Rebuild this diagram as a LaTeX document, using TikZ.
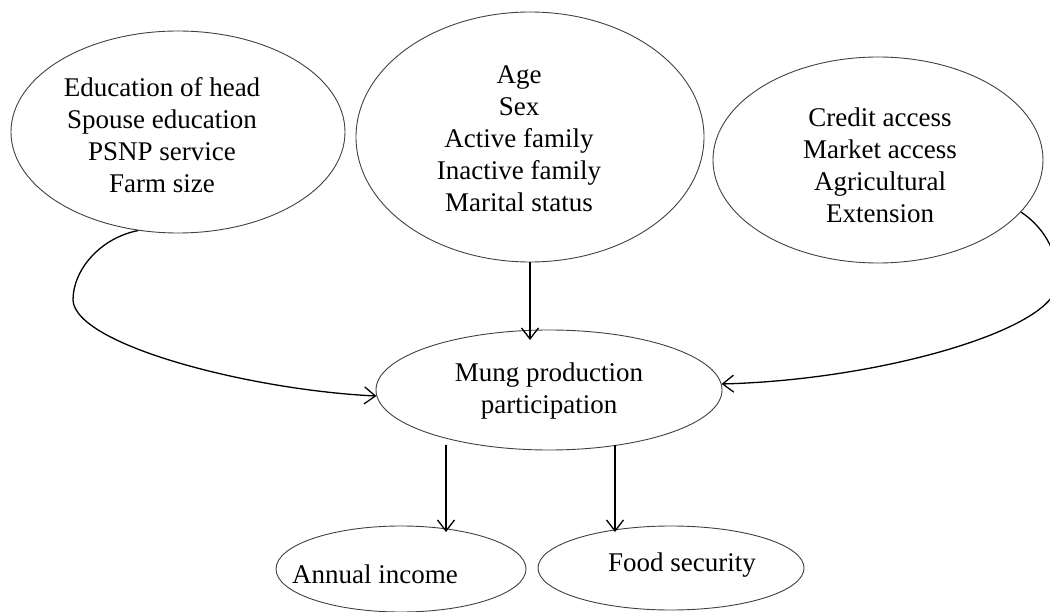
\documentclass[tikz,border=0pt]{standalone}
\usepackage{fontspec}
\setmainfont{Liberation Serif}
\usetikzlibrary{shapes.geometric,arrows.meta}
\begin{document}
\begin{tikzpicture}[x=1pt,y=-1pt,
  oval/.style={draw=black!75,line width=0.9pt,ellipse,inner sep=0pt},
  lbl/.style={align=center,font=\fontsize{27}{32}\selectfont,inner sep=0pt},
  arr/.style={line width=1.3pt,-{Straight Barb[length=11pt,width=17pt,line width=1.3pt]}}]
\useasboundingbox (0,0) rectangle (1050,612);
% ellipses
\node[oval,minimum width=334pt,minimum height=202pt] (e1) at (178,132) {};
\node[oval,minimum width=348pt,minimum height=250pt] (e2) at (530,137) {};
\node[oval,minimum width=330pt,minimum height=206pt] (e3) at (878,160) {};
\node[oval,minimum width=346pt,minimum height=120pt] (mung) at (549,390) {};
\node[oval,minimum width=250pt,minimum height=86pt] (inc) at (401,569) {};
\node[oval,minimum width=266pt,minimum height=84pt] (food) at (671,568) {};
% texts
\node[lbl] (t1) at (162,135) {Education of head\\Spouse education\\PSNP service\\Farm size};
\node[lbl] (t2) at (519,139) {Age\\Sex\\Active family\\Inactive family\\Marital status};
\node[lbl] (t3) at (880,165) {Credit access\\Market access\\Agricultural\\Extension};
\node[lbl] (t4) at (549,391) {Mung production\\participation};
\node[lbl] (t5) at (375,574) {Annual income};
\node[lbl] (t6) at (682,565) {Food security};
% coordinates
\coordinate (lk) at (73,300);
\coordinate (rk) at (1057,285);
\coordinate (m1) at (530,340);
\coordinate (b1) at (446,445);
\coordinate (b2) at (446,532);
\coordinate (b3) at (615,445);
\coordinate (b4) at (615,532);
% connectors
\draw[arr] (e1.248) .. controls (100,238) and (73,270) .. (lk)
  .. controls (75,345) and (250,390) .. (mung.182);
\draw[arr] (e3.340) .. controls (1045,228) and (1060,255) .. (rk)
  .. controls (1052,330) and (880,380) .. (mung.2);
\draw[arr] (e2.south) -- (m1);
\draw[arr] (b1) -- (b2);
\draw[arr] (b3) -- (b4);
\end{tikzpicture}
\end{document}
